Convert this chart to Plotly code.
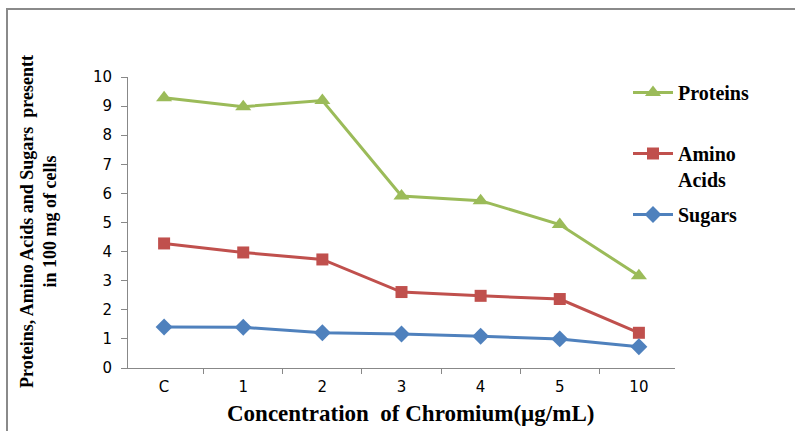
import plotly.graph_objects as go

categories = ["C", "1", "2", "3", "4", "5", "10"]
proteins = [9.29, 8.98, 9.19, 5.91, 5.75, 4.93, 3.17]
amino_acids = [4.28, 3.97, 3.73, 2.61, 2.48, 2.37, 1.21]
sugars = [1.41, 1.40, 1.21, 1.17, 1.09, 1.00, 0.73]

GREEN = "#9BBB59"
RED = "#C0504D"
BLUE = "#4F81BD"
SERIF = "Liberation Serif"
SANS = "DejaVu Sans"

fig = go.Figure()
fig.add_trace(go.Scatter(x=categories, y=proteins, name="Proteins<br>\u00a0", mode="lines+markers",
                         line=dict(color=GREEN, width=3),
                         marker=dict(symbol="triangle-up", size=14, color=GREEN),
                         legendgroup="p"))
fig.add_trace(go.Scatter(x=categories, y=amino_acids, name="Amino<br>Acids", mode="lines+markers",
                         line=dict(color=RED, width=3),
                         marker=dict(symbol="square", size=12, color=RED),
                         legendgroup="a"))
fig.add_trace(go.Scatter(x=categories, y=sugars, name="Sugars", mode="lines+markers",
                         line=dict(color=BLUE, width=3),
                         marker=dict(symbol="diamond", size=13, color=BLUE),
                         legendgroup="s"))

FW, FH = 795, 431
PL, PR, PT, PB = 128, 675, 77, 368  # plot area in page pixels
L, T = PL, PT
W, H = PR - PL, PB - PT
R, B = FW - L - W, FH - T - H

def px(xp):
    return (xp - PL) / W

def py(yp):
    return (PB - yp) / H

fig.update_layout(
    width=FW, height=FH,
    margin=dict(l=L, r=R, t=T, b=B),
    paper_bgcolor="white", plot_bgcolor="white",
    showlegend=True,
    legend=dict(x=px(628), y=py(73), xanchor="left", yanchor="top", valign="top",
                font=dict(family=SERIF, size=20, color="black", weight="bold"),
                tracegroupgap=6, bgcolor="rgba(0,0,0,0)", itemwidth=40),
    xaxis=dict(type="category", showline=True, linecolor="#888888", linewidth=1,
               ticks="outside", ticklen=5, tickcolor="#888888", tickson="boundaries",
               showgrid=False, zeroline=False,
               tickfont=dict(family=SANS, size=15, color="black"),
               ticklabelstandoff=5),
    yaxis=dict(range=[0, 10], dtick=1, showline=True, linecolor="#888888", linewidth=1,
               ticks="outside", ticklen=6, tickcolor="#888888",
               showgrid=False, zeroline=False,
               tickfont=dict(family=SANS, size=15, color="black"),
               ticklabelstandoff=6),
    annotations=[
        dict(text="Concentration  of Chromium(µg/mL)", xref="paper", yref="paper",
             x=px(410), y=py(414), xanchor="center", yanchor="middle", showarrow=False,
             font=dict(family=SERIF, size=23, color="black", weight="bold")),
        dict(text="Proteins, Amino Acids and Sugars  presentt<br>in 100 mg of cells",
             xref="paper", yref="paper", x=px(38), y=py(222), textangle=-90,
             xanchor="center", yanchor="middle", showarrow=False,
             font=dict(family=SERIF, size=18, color="black", weight="bold")),
    ],
    shapes=[
        dict(type="rect", xref="paper", yref="paper",
             x0=px(7), y0=py(445), x1=px(810), y1=py(9),
             line=dict(color="#8a8a8a", width=2), fillcolor="rgba(0,0,0,0)"),
    ],
)

fig.write_html("out.html", config={"displayModeBar": False},
               post_script="document.body.style.margin='0';document.body.style.overflow='hidden';")
